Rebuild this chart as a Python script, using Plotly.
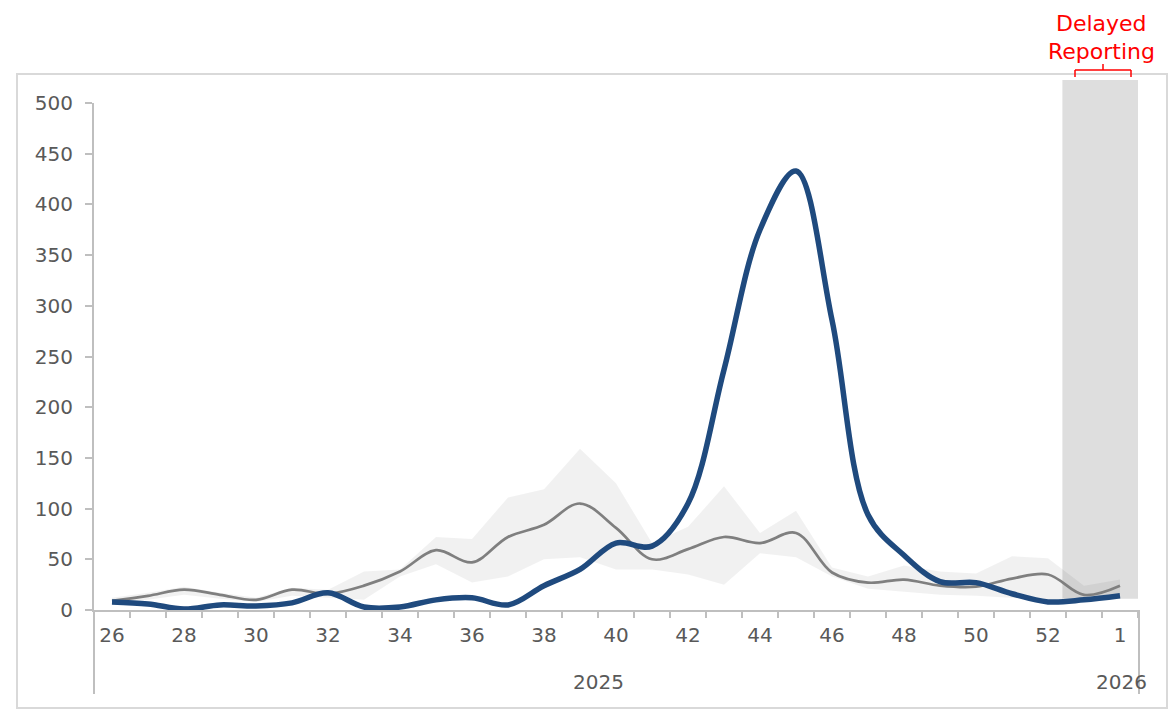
import plotly.graph_objects as go

# ---- data ----
weeks = ["26", "27", "28", "29", "30", "31", "32", "33", "34", "35", "36", "37", "38", "39",
         "40", "41", "42", "43", "44", "45", "46", "47", "48", "49", "50", "51", "52", "53", "1"]
week_labels = ["26", "", "28", "", "30", "", "32", "", "34", "", "36", "", "38", "",
               "40", "", "42", "", "44", "", "46", "", "48", "", "50", "", "52", "", "1"]
current_season = [8, 6, 1, 5, 4, 7, 17, 3, 3, 10, 12, 5, 24, 40,
                  66, 63, 105, 237, 375, 433, 286, 94, 54, 28, 27, 16, 8, 10, 14]
avg_prev = [9, 14, 20, 15, 10, 20, 16, 24, 38, 59, 47, 72, 84, 105,
            81, 50, 60, 72, 66, 76, 37, 27, 30, 24, 23, 31, 35, 15, 24]
range_upper = [12, 17, 23, 17, 12, 22, 20, 38, 40, 72, 70, 111, 119, 159,
               125, 66, 82, 122, 76, 98, 42, 33, 44, 38, 36, 53, 51, 24, 30]
range_lower = [7, 10, 15, 11, 8, 14, 12, 10, 33, 45, 27, 33, 50, 52,
               40, 40, 35, 25, 56, 52, 33, 21, 18, 15, 14, 12, 10, 12, 13]
year_labels = ["2025", "2026"]
delayed_start = 26.4   # category index where delayed reporting begins
delayed_end = 28.5
delayed_low = 11
delayed_title = ["Delayed", "Reporting"]

# ---- geometry (page pixels; the page body adds an 8px offset) ----
OFF = 8
W, H = 1176 - OFF, 710 - OFF
L, R, T, B = 94 - OFF, 1138 - OFF, 103 - OFF, 610 - OFF
def pxx(p):
    return (p - OFF - L) / (R - L)
def pxy(p):
    return (B - (p - OFF)) / (B - T)

FONT = "DejaVu Sans"
TXT = "#595959"
AX = "#BFBFBF"

fig = go.Figure()
fig.add_trace(go.Scatter(x=weeks, y=range_lower, mode="lines", line=dict(width=0),
                         hoverinfo="skip", showlegend=False))
fig.add_trace(go.Scatter(x=weeks, y=range_upper, mode="lines", line=dict(width=0),
                         fill="tonexty", fillcolor="rgba(0,0,0,0.055)",
                         hoverinfo="skip", showlegend=False))
fig.add_trace(go.Scatter(x=weeks, y=avg_prev, mode="lines",
                         line=dict(color="#7F7F7F", width=2.7, shape="spline", smoothing=1),
                         showlegend=False))
fig.add_trace(go.Scatter(x=weeks, y=current_season, mode="lines",
                         line=dict(color="#1F4A7E", width=5.5, shape="spline", smoothing=1),
                         showlegend=False))

shapes = []
# delayed reporting box
shapes.append(dict(type="rect", xref="x", yref="paper", x0=delayed_start, x1=delayed_end,
                   y0=delayed_low / 500, y1=pxy(80), fillcolor="#DEDEDE",
                   line=dict(width=0), layer="below"))
# outer border
shapes.append(dict(type="rect", xref="paper", yref="paper", x0=pxx(17), x1=pxx(1167),
                   y0=pxy(708), y1=pxy(74), line=dict(color="#D9D9D9", width=2), layer="below"))
# category group separators
for xp in (94, 1139):
    shapes.append(dict(type="line", xref="paper", yref="paper", x0=pxx(xp), x1=pxx(xp),
                       y0=pxy(610), y1=pxy(694), line=dict(color=AX, width=2)))
# bracket
red = "#FF0000"
shapes.append(dict(type="line", xref="paper", yref="paper", x0=pxx(1075), x1=pxx(1131),
                   y0=pxy(70), y1=pxy(70), line=dict(color=red, width=1.5)))
for xp in (1075, 1131):
    shapes.append(dict(type="line", xref="paper", yref="paper", x0=pxx(xp), x1=pxx(xp),
                       y0=pxy(70), y1=pxy(77), line=dict(color=red, width=1.5)))
shapes.append(dict(type="line", xref="paper", yref="paper", x0=pxx(1103), x1=pxx(1103),
                   y0=pxy(70), y1=pxy(64), line=dict(color=red, width=1.5)))

annotations = [
    dict(text=delayed_title[0], xref="paper", yref="paper", x=pxx(1101), y=pxy(23),
         xanchor="center", yanchor="middle", showarrow=False,
         font=dict(family=FONT, size=22, color=red)),
    dict(text=delayed_title[1], xref="paper", yref="paper", x=pxx(1101), y=pxy(52),
         xanchor="center", yanchor="middle", showarrow=False,
         font=dict(family=FONT, size=22, color=red)),
    dict(text=year_labels[0], xref="paper", yref="paper", x=pxx(598), y=pxy(682),
         xanchor="center", yanchor="middle", showarrow=False,
         font=dict(family=FONT, size=20, color=TXT)),
    dict(text=year_labels[1], xref="paper", yref="paper", x=pxx(1121), y=pxy(682),
         xanchor="center", yanchor="middle", showarrow=False,
         font=dict(family=FONT, size=20, color=TXT)),
]

fig.update_layout(
    width=W, height=H,
    margin=dict(l=L, r=W - R, t=T, b=H - B),
    paper_bgcolor="white", plot_bgcolor="white",
    shapes=shapes, annotations=annotations,
    font=dict(family=FONT, color=TXT),
    xaxis=dict(type="category", categoryorder="array", categoryarray=weeks,
               range=[-0.5, 28.5], tickmode="array", tickvals=weeks, ticktext=week_labels,
               tickson="boundaries", ticks="outside", ticklen=6, tickcolor=AX, tickwidth=2,
               showline=True, linecolor=AX, linewidth=2, showgrid=False,
               ticklabelstandoff=6,
               tickfont=dict(family=FONT, size=20, color=TXT)),
    yaxis=dict(range=[0, 500], dtick=50, tick0=0, ticks="outside", ticklen=7,
               tickcolor=AX, tickwidth=2, showline=True, linecolor=AX, linewidth=2,
               showgrid=False, zeroline=False, ticklabelstandoff=8,
               tickfont=dict(family=FONT, size=20, color=TXT)),
)

fig.write_html("out.html")
